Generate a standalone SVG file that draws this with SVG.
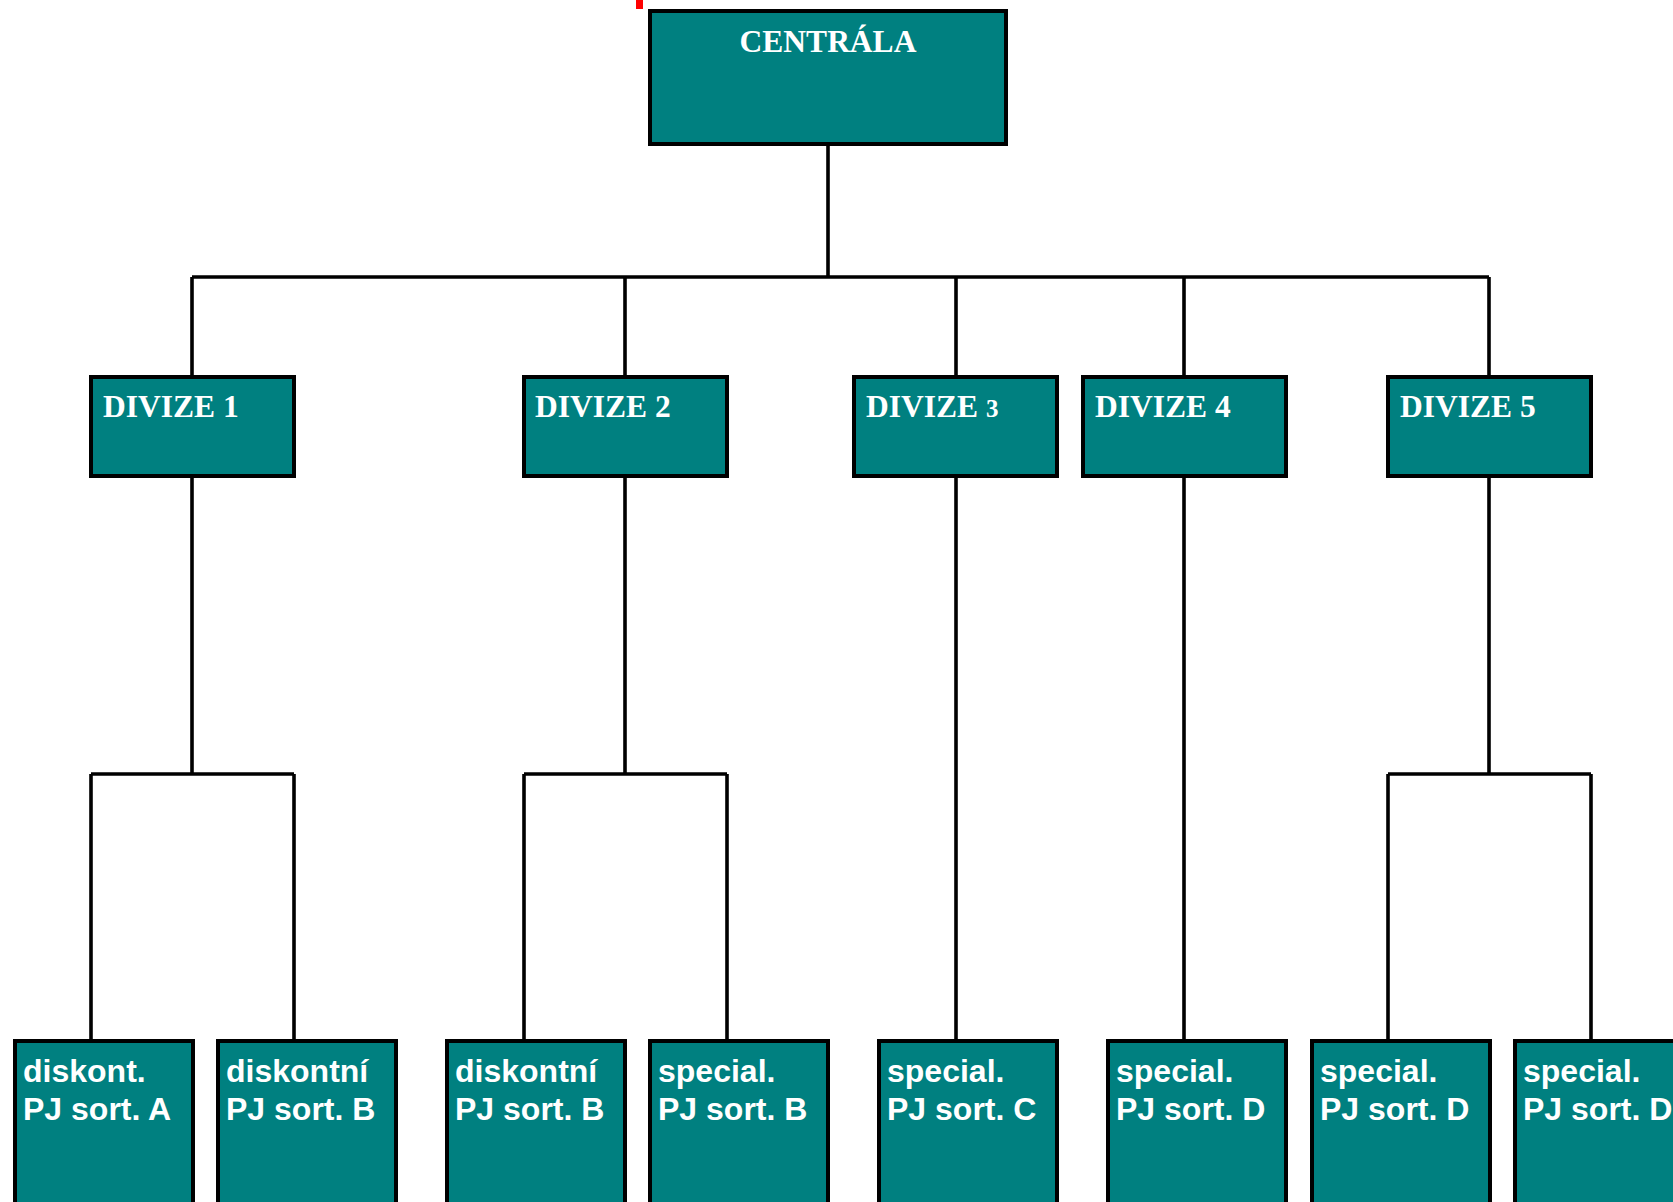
<svg xmlns="http://www.w3.org/2000/svg" width="1673" height="1202" viewBox="0 0 1673 1202">
<style>
.box{fill:#008080;stroke:#000;stroke-width:4}
.ln{stroke:#000;stroke-width:3.6;fill:none}
.tt{font-family:"Liberation Serif","Times New Roman",serif;font-weight:bold;font-size:31.5px;fill:#fff}
.ts{font-family:"Liberation Sans",Arial,sans-serif;font-weight:bold;font-size:32px;fill:#fff}
</style>
<rect x="636" y="0" width="7" height="9" fill="#ff0000"/>
<g id="connectors">
<path class="ln" d="M828 146V277M192 277H1489M192 277V377M625 277V377M956 277V377M1184 277V377M1489 277V377"/>
<path class="ln" d="M192 477V774M91 774H294M91 774V1039M294 774V1039"/>
<path class="ln" d="M625 477V774M524 774H727M524 774V1039M727 774V1039"/>
<path class="ln" d="M956 477V1039M1184 477V1039"/>
<path class="ln" d="M1489 477V774M1388 774H1591M1388 774V1039M1591 774V1039"/>
</g>
<g id="centrala"><rect class="box" x="650" y="11" width="356" height="133"/><text class="tt" x="828" y="52" text-anchor="middle">CENTRÁLA</text></g>
<g id="divize1"><rect class="box" x="91" y="377" width="203" height="99"/><text class="tt" x="103" y="417">DIVIZE 1</text></g>
<g id="divize2"><rect class="box" x="524" y="377" width="203" height="99"/><text class="tt" x="535" y="417">DIVIZE 2</text></g>
<g id="divize3"><rect class="box" x="854" y="377" width="203" height="99"/><text class="tt" x="866" y="417">DIVIZE <tspan font-size="25">3</tspan></text></g>
<g id="divize4"><rect class="box" x="1083" y="377" width="203" height="99"/><text class="tt" x="1095" y="417">DIVIZE 4</text></g>
<g id="divize5"><rect class="box" x="1388" y="377" width="203" height="99"/><text class="tt" x="1400" y="417">DIVIZE 5</text></g>
<g id="pj1"><rect class="box" x="15" y="1041" width="178" height="180"/><text class="ts" x="23" y="1082">diskont.<tspan x="23" y="1120">PJ sort. A</tspan></text></g>
<g id="pj2"><rect class="box" x="218" y="1041" width="178" height="180"/><text class="ts" x="226" y="1082">diskontní<tspan x="226" y="1120">PJ sort. B</tspan></text></g>
<g id="pj3"><rect class="box" x="447" y="1041" width="178" height="180"/><text class="ts" x="455" y="1082">diskontní<tspan x="455" y="1120">PJ sort. B</tspan></text></g>
<g id="pj4"><rect class="box" x="650" y="1041" width="178" height="180"/><text class="ts" x="658" y="1082">special.<tspan x="658" y="1120">PJ sort. B</tspan></text></g>
<g id="pj5"><rect class="box" x="879" y="1041" width="178" height="180"/><text class="ts" x="887" y="1082">special.<tspan x="887" y="1120">PJ sort. C</tspan></text></g>
<g id="pj6"><rect class="box" x="1108" y="1041" width="178" height="180"/><text class="ts" x="1116" y="1082">special.<tspan x="1116" y="1120">PJ sort. D</tspan></text></g>
<g id="pj7"><rect class="box" x="1312" y="1041" width="178" height="180"/><text class="ts" x="1320" y="1082">special.<tspan x="1320" y="1120">PJ sort. D</tspan></text></g>
<g id="pj8"><rect class="box" x="1515" y="1041" width="178" height="180"/><text class="ts" x="1523" y="1082">special.<tspan x="1523" y="1120">PJ sort. D</tspan></text></g>
</svg>
